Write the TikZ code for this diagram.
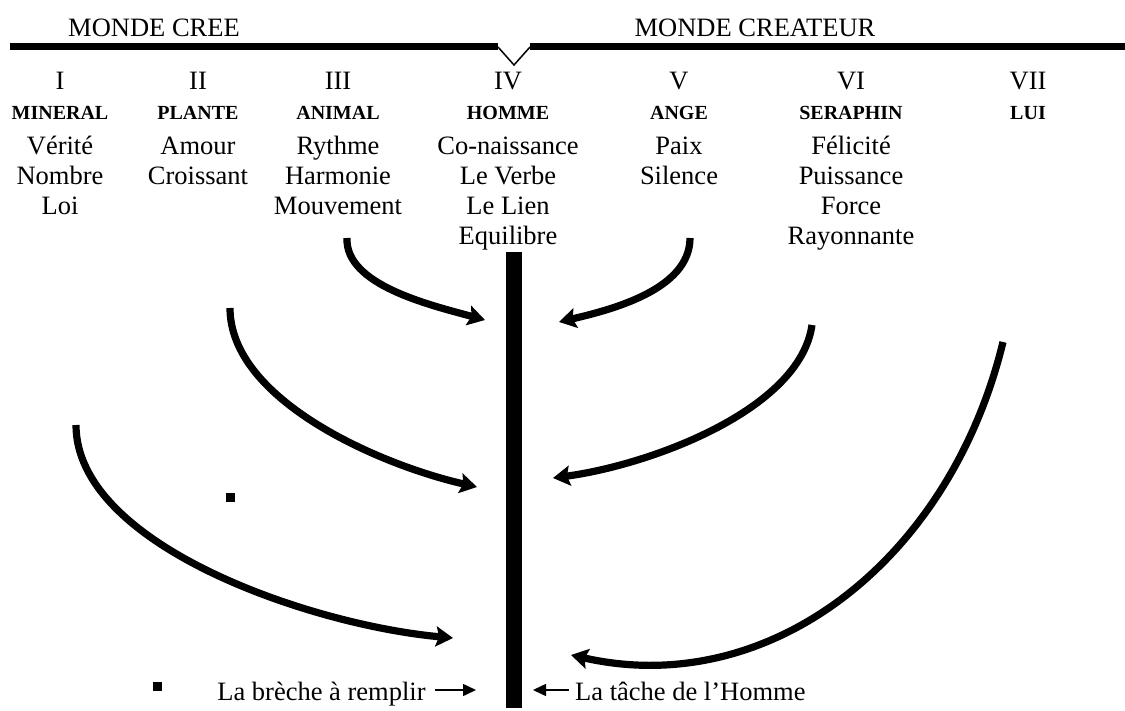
\documentclass[tikz,border=0pt]{standalone}
\usepackage{fontspec}
\setmainfont{Liberation Serif}
\usepackage{tikz}
\usetikzlibrary{arrows.meta,positioning}

\newcommand{\nom}[1]{{\fontsize{20}{30}\selectfont\bfseries #1}}

\begin{document}
\begin{tikzpicture}[x=1pt, y=-1pt,
    txt/.style={font=\fontsize{26.5}{30}\selectfont, inner sep=0pt},
    col/.style={txt, align=center, anchor=north},
    axe/.style={fill=black, draw=none, inner sep=0pt, minimum width=16pt, minimum height=456pt},
    fleche/.style={line width=7.2pt, -{Stealth[length=17pt,width=20pt,inset=3pt]}},
    petite/.style={line width=1.5pt, -{Triangle[length=13pt,width=12pt]}},
    point/.style={fill=black, inner sep=0pt, minimum size=9pt}
]
    \useasboundingbox (0,0) rectangle (1125,711);

    % Top line
    \node[txt, anchor=base] (cree) at (154,37) {MONDE CREE};
    \node[txt, anchor=base] (createur) at (755,37) {MONDE CREATEUR};
    \fill (10,43) rectangle (498,50);
    \fill (530,43) rectangle (1125,50);
    \draw[line width=1.5pt] (498,47) -- (514,65) -- (530,47);

    % Columns
    \node[col] (c1) at (60,72) {I\\\nom{MINERAL}\\[4.5pt]Vérité\\Nombre\\Loi};
    \node[col] (c2) at (198,72) {II\\\nom{PLANTE}\\[4.5pt]Amour\\Croissant};
    \node[col] (c3) at (338,72) {III\\\nom{ANIMAL}\\[4.5pt]Rythme\\Harmonie\\Mouvement};
    \node[col] (c4) at (508,72) {IV\\\nom{HOMME}\\[4.5pt]Co-naissance\\Le Verbe\\Le Lien\\Equilibre};
    \node[col] (c5) at (679,72) {V\\\nom{ANGE}\\[4.5pt]Paix\\Silence};
    \node[col] (c6) at (851,72) {VI\\\nom{SERAPHIN}\\[4.5pt]Félicité\\Puissance\\Force\\Rayonnante};
    \node[col] (c7) at (1028,72) {VII\\\nom{LUI}};

    % Axis
    \node[axe, anchor=north] (axe) at (514,252) {};

    % Arrow ends
    \coordinate (d1) at (76,425);   \coordinate (f1) at (453,638);
    \coordinate (d2) at (230,308);  \coordinate (f2) at (477,487);
    \coordinate (d3) at (347,238);  \coordinate (f3) at (485,320);
    \coordinate (d5) at (690,238);  \coordinate (f5) at (559,322);
    \coordinate (d6) at (812,325);  \coordinate (f6) at (553,478);
    \coordinate (d7) at (1003,342); \coordinate (f7) at (571,655);

    \draw[fleche] (d1) .. controls (76,545) and (310,625) .. (f1);
    \draw[fleche] (d2) .. controls (230,400) and (380,465) .. (f2);
    \draw[fleche] (d3) .. controls (345,285) and (430,305) .. (f3);
    \draw[fleche] (d5) .. controls (690,290) and (610,310) .. (f5);
    \draw[fleche] (d6) .. controls (800,410) and (650,465) .. (f6);
    \draw[fleche] (d7) .. controls (950,560) and (770,700) .. (f7);

    % Bottom labels
    \node[point] (p1) at (230.5,497.5) {};
    \node[point] (p2) at (157,686) {};
    \node[txt, anchor=base] (breche) at (321.5,700) {La brèche à remplir};
    \node[txt, anchor=base west] (tache) at (575,700) {La tâche de l’Homme};
    \coordinate (b0) at (435,690); \coordinate (b1) at (476,690);
    \coordinate (t0) at (569,690); \coordinate (t1) at (533,690);
    \draw[petite] (b0) -- (b1);
    \draw[petite] (t0) -- (t1);
\end{tikzpicture}
\end{document}
